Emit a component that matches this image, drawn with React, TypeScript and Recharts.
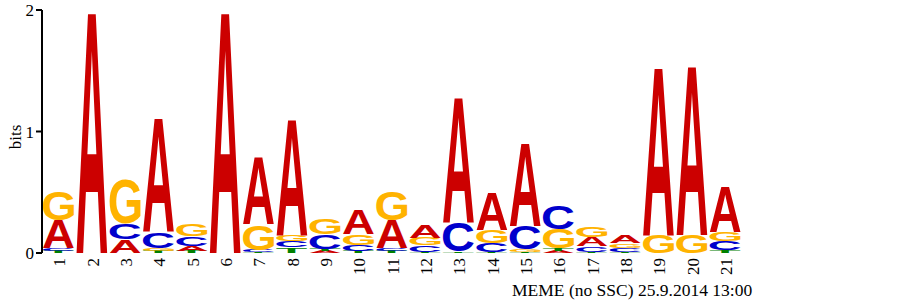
import React from "react";
import { BarChart, Bar, XAxis, YAxis } from "recharts";

// sequence positions (x tick labels)
const positions = [
  "1", "2", "3", "4", "5", "6", "7", "8", "9", "10", "11",
  "12", "13", "14", "15", "16", "17", "18", "19", "20", "21",
];

// information content (bits) contributed by each base at each position
const aBits = [0.23, 2.0, 0.11, 0.94, 0.04, 2.0, 0.55, 0.96, 0.015, 0.2, 0.23, 0.11, 1.04, 0.31, 0.68, 0.015, 0.075, 0.06, 1.39, 1.4, 0.37];
const cBits = [0.025, 0, 0.13, 0.13, 0.08, 0, 0.015, 0.05, 0.12, 0.05, 0.025, 0.055, 0.24, 0.07, 0.19, 0.19, 0.045, 0.033, 0, 0, 0.07];
const gBits = [0.235, 0, 0.37, 0.025, 0.1, 0, 0.21, 0.055, 0.125, 0.09, 0.235, 0.06, 0, 0.11, 0.02, 0.16, 0.08, 0.036, 0.15, 0.15, 0.075];
const tBits = [0.015, 0, 0, 0.015, 0.015, 0, 0.01, 0.045, 0.02, 0.015, 0.015, 0.01, 0.01, 0.01, 0.01, 0.02, 0.01, 0.01, 0, 0, 0.025];

const yTicks = [0, 1, 2];

const bases = ["A", "C", "G", "T"];
const baseBits = [aBits, cBits, gBits, tBits];

const colors: Record<string, string> = {
  A: "#CC0000",
  C: "#0000CC",
  G: "#FFB300",
  T: "#008000",
};

const serif = "'Liberation Serif', 'Times New Roman', serif";
const letterFont = "'Liberation Sans', Arial, Helvetica, sans-serif";
const F = 100;

// fallback ink boxes (em): xMin, xMax, yMin, yMax
const fallbackBox: Record<string, number[]> = {
  A: [0, 0.722, 0, 0.716],
  C: [0.048, 0.68, -0.022, 0.738],
  G: [0.045, 0.725, -0.022, 0.738],
  T: [0.02, 0.59, 0, 0.716],
};

const boxCache: Record<string, number[]> = {};
function glyphBox(letter: string) {
  if (boxCache[letter]) return boxCache[letter];
  let box = fallbackBox[letter];
  try {
    const ctx = document.createElement("canvas").getContext("2d");
    if (ctx) {
      ctx.font = `bold ${F}px ${letterFont}`;
      const m = ctx.measureText(letter);
      if (m.actualBoundingBoxAscent > 0) {
        box = [
          -m.actualBoundingBoxLeft / F,
          m.actualBoundingBoxRight / F,
          -m.actualBoundingBoxDescent / F,
          m.actualBoundingBoxAscent / F,
        ];
      }
    }
  } catch (e) {
    // keep fallback
  }
  boxCache[letter] = box;
  return box;
}

// smallest letter at the bottom, tallest on top
const data = positions.map((pos, i) => {
  const stack = bases
    .map((b, j) => ({ b, h: baseBits[j][i] }))
    .filter((s) => s.h > 0)
    .sort((p, q) => p.h - q.h);
  const row: any = { pos };
  for (let r = 0; r < 4; r++) {
    row[`h${r}`] = stack[r] ? stack[r].h : 0;
    row[`l${r}`] = stack[r] ? stack[r].b : "";
  }
  return row;
});

const letterShape = (rank: number) => (props: any) => {
  const { x, y, width, height, payload } = props;
  const letter = payload && payload[`l${rank}`];
  if (!letter || !height || height <= 0) return <g />;
  const [x0, x1, y0, y1] = glyphBox(letter);
  const sx = width / ((x1 - x0) * F);
  const sy = height / ((y1 - y0) * F);
  const tx = x - x0 * F * sx;
  const ty = y + height + y0 * F * sy;
  return (
    <text
      transform={`translate(${tx},${ty}) scale(${sx},${sy})`}
      fontSize={F}
      fontFamily={letterFont}
      fontWeight="bold"
      fill={colors[letter]}
    >
      {letter}
    </text>
  );
};

const PosTick = (props: any) => {
  const { x, y, payload } = props;
  return (
    <text
      transform={`translate(${x + 1},${y - 3}) rotate(-90)`}
      textAnchor="end"
      dominantBaseline="central"
      fontFamily={serif}
      fontSize={17}
      fill="#000"
    >
      {payload.value}
    </text>
  );
};

export default function App() {
  return (
    <div
      style={{
        position: "absolute",
        left: 0,
        top: 0,
        width: 902,
        height: 301,
        background: "#fff",
      }}
    >
      <BarChart
        width={902}
        height={301}
        data={data}
        margin={{ top: 10, right: 160, bottom: 0, left: 0 }}
        barCategoryGap={1}
      >
        <XAxis
          dataKey="pos"
          height={48}
          axisLine={false}
          tickLine={false}
          interval={0}
          tick={<PosTick />}
        />
        <YAxis
          width={42}
          domain={[0, 2]}
          ticks={yTicks}
          allowDataOverflow
          axisLine={{ stroke: "#000", strokeWidth: 2 }}
          tickLine={{ stroke: "#000", strokeWidth: 2 }}
          tick={{ fontFamily: serif, fontSize: 17, fill: "#000" }}
        />
        {[0, 1, 2, 3].map((r) => (
          <Bar
            key={r}
            dataKey={`h${r}`}
            stackId="logo"
            isAnimationActive={false}
            shape={letterShape(r)}
          />
        ))}
      </BarChart>
      <div
        style={{
          position: "absolute",
          left: 15,
          top: 137,
          transform: "translate(-50%, -50%) rotate(-90deg)",
          fontFamily: serif,
          fontSize: 17,
          lineHeight: "17px",
          whiteSpace: "nowrap",
        }}
      >
        bits
      </div>
      <div
        style={{
          position: "absolute",
          left: 512,
          top: 280,
          fontFamily: serif,
          fontSize: 17.5,
          lineHeight: "20px",
          whiteSpace: "nowrap",
        }}
      >
        MEME (no SSC) 25.9.2014 13:00
      </div>
    </div>
  );
}
